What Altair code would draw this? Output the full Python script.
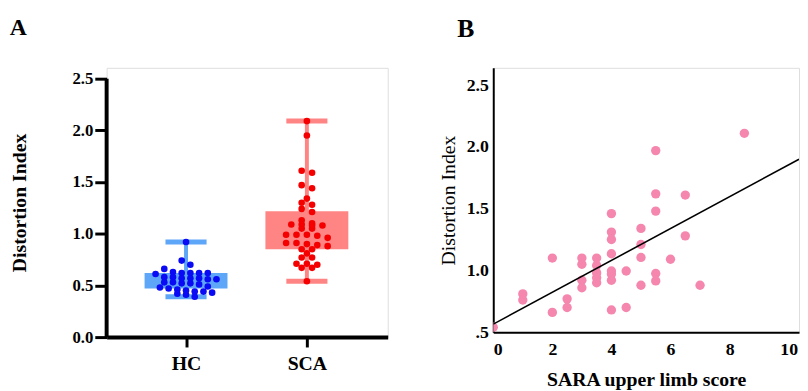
import altair as alt
import pandas as pd
import numpy as np

# ---------------- Panel A data ----------------
groups = ["HC", "SCA"]
hc_values = [0.92, 0.74, 0.70, 0.66,
             0.63, 0.62, 0.62, 0.62, 0.62, 0.61,
             0.58, 0.58, 0.57, 0.57, 0.57, 0.56, 0.56,
             0.53, 0.53, 0.52, 0.52, 0.51,
             0.49, 0.48, 0.47, 0.46, 0.45,
             0.44, 0.44, 0.43, 0.42, 0.41, 0.39]
sca_values = [2.09, 1.95, 1.61, 1.59, 1.47, 1.44, 1.34, 1.30, 1.28, 1.24, 1.21, 1.13,
              1.10, 1.09, 1.09, 1.08, 1.08, 1.05, 1.05,
              0.99, 0.99, 0.99, 0.98, 0.96,
              0.91, 0.91, 0.90, 0.89, 0.88,
              0.85, 0.85, 0.81, 0.77, 0.77, 0.71, 0.71, 0.70, 0.67, 0.67, 0.54]
y_ticks_a = [0.0, 0.5, 1.0, 1.5, 2.0, 2.5]

# ---------------- Panel B data ----------------
sara_score = [0, 1, 1, 2, 2, 2.5, 2.5,
              3, 3, 3, 3,
              3.5, 3.5, 3.5, 3.5, 3.5,
              4, 4, 4, 4, 4, 4, 4, 4,
              4.5, 4.5,
              5, 5, 5, 5,
              5.5, 5.5, 5.5, 5.5, 5.5,
              6, 6.5, 6.5, 7, 8.5]
sara_di = [0.54, 0.81, 0.76, 1.10, 0.66, 0.77, 0.70,
           1.10, 1.05, 0.92, 0.86,
           1.10, 1.04, 0.98, 0.94, 0.90,
           1.46, 1.31, 1.25, 1.135, 0.995, 0.97, 0.92, 0.68,
           0.995, 0.70,
           1.34, 1.21, 1.105, 0.88,
           1.97, 1.62, 1.48, 0.975, 0.915,
           1.09, 1.61, 1.28, 0.88, 2.11]
fit_intercept = 0.565
fit_slope = 0.129
x_ticks_b = [0, 2, 4, 6, 8, 10]
y_ticks_b = [0.5, 1.0, 1.5, 2.0, 2.5]

FONT = "Liberation Serif"
HC_BOX = "#5EA6F7"
SCA_BOX = "#FF8484"
HC_DOT = "#0A0AF5"
SCA_DOT = "#F50000"
PINK = "#F586AE"


def rows_offsets(vals, tol, step):
    order = sorted(range(len(vals)), key=lambda i: -vals[i])
    rows = []
    for i in order:
        if rows and vals[rows[-1][0]] - vals[i] <= tol:
            rows[-1].append(i)
        else:
            rows.append([i])
    off = [0.0] * len(vals)
    for r in rows:
        n = len(r)
        for k, i in enumerate(r):
            off[i] = (k - (n - 1) / 2) * step
    return off


pts = []
stats = []
for gi, (g, vals, tol, step) in enumerate([("HC", hc_values, 0.05, 0.072),
                                           ("SCA", sca_values, 0.035, 0.086)]):
    pos = gi + 1
    offs = rows_offsets(vals, tol, step)
    for v, o in zip(vals, offs):
        pts.append({"group": g, "xp": pos + o, "value": v})
    arr = np.array(vals)
    stats.append({"group": g, "pos": pos,
                  "bl": pos - 0.343, "br": pos + 0.343,
                  "cl": pos - 0.17, "cr": pos + 0.17,
                  "mn": arr.min(), "mx": arr.max(),
                  "q1": np.percentile(arr, 25), "q3": np.percentile(arr, 75)})
pts_df = pd.DataFrame(pts)
stats_df = pd.DataFrame(stats)
axis_df = pd.DataFrame({"x0": [0.343], "y0": [0.0], "y1": [2.5]})

# plot area reaches a little above 2.5 so both panels share their top edge
ya_top = 2.5 * 273 / 262
xa = alt.Scale(domain=[0.343, 2.669], nice=False, zero=False)
ya = alt.Scale(domain=[0, ya_top], nice=False)
box_color = alt.Color("group:N", scale=alt.Scale(domain=groups, range=[HC_BOX, SCA_BOX]), legend=None)
dot_color = alt.Color("group:N", scale=alt.Scale(domain=groups, range=[HC_DOT, SCA_DOT]), legend=None)

x_axis_a = alt.Axis(values=[1, 2], labelExpr="datum.value == 1 ? 'HC' : 'SCA'", title=None,
                    grid=False, domainColor="black", domainWidth=4, tickColor="black",
                    tickWidth=3, tickSize=10, labelFont=FONT, labelFontSize=20,
                    labelFontWeight="bold", labelColor="black", labelPadding=7)
y_axis_a = alt.Axis(values=y_ticks_a, format=".1f", title="Distortion Index", grid=False,
                    domain=False, tickColor="black", tickWidth=3,
                    tickSize=12, labelFont=FONT, labelFontSize=17, labelFontWeight="bold",
                    labelColor="black", labelPadding=2, titleFont=FONT, titleFontSize=20,
                    titleFontWeight="bold", titleColor="black", titlePadding=43)

whisk = alt.Chart(stats_df).mark_rule(strokeWidth=4).encode(
    x=alt.X("pos:Q", scale=xa, axis=x_axis_a),
    y=alt.Y("mn:Q", scale=ya, axis=y_axis_a), y2="mx:Q", color=box_color)
cap_top = alt.Chart(stats_df).mark_rule(strokeWidth=5).encode(
    x="cl:Q", x2="cr:Q", y="mx:Q", color=box_color)
cap_bot = alt.Chart(stats_df).mark_rule(strokeWidth=5).encode(
    x="cl:Q", x2="cr:Q", y="mn:Q", color=box_color)
boxes = alt.Chart(stats_df).mark_rect().encode(
    x="bl:Q", x2="br:Q", y="q1:Q", y2="q3:Q", color=box_color)
dots = alt.Chart(pts_df).mark_circle(size=45, opacity=1).encode(
    x="xp:Q", y="value:Q", color=dot_color)
y_line = alt.Chart(axis_df).mark_rule(strokeWidth=4, color="black").encode(
    x="x0:Q", y="y0:Q", y2="y1:Q")

panel_a = alt.layer(whisk, cap_top, cap_bot, boxes, dots, y_line).resolve_scale(
    color="independent").properties(
    width=285, height=273,
    title=alt.TitleParams("A", anchor="start", frame="bounds", font=FONT, fontSize=24,
                          fontWeight="bold", color="black", offset=28))

# ---------------- Panel B ----------------
b_df = pd.DataFrame({"score": sara_score, "di": sara_di})
x_end = 10.35
line_df = pd.DataFrame({"score": [0, x_end],
                        "di": [fit_intercept, fit_intercept + fit_slope * x_end]})
xb = alt.Scale(domain=[0, x_end], nice=False)
yb = alt.Scale(domain=[0.5, 2.64], nice=False, zero=False)
x_axis_b = alt.Axis(values=x_ticks_b, format="d", title="SARA upper limb score", grid=False,
                    ticks=False, domainColor="black", domainWidth=2, labelFont=FONT,
                    labelFontSize=18, labelFontWeight="bold", labelColor="black",
                    labelPadding=9, titleFont=FONT, titleFontSize=20, titleFontWeight="bold",
                    titleColor="black", titlePadding=11)
y_axis_b = alt.Axis(values=y_ticks_b, labelExpr="datum.value == 0.5 ? '.5' : format(datum.value, '.1f')",
                    title="Distortion Index", grid=False, ticks=False, domainColor="black",
                    domainWidth=2, labelFont=FONT, labelFontSize=18, labelFontWeight="bold",
                    labelColor="black", labelPadding=5, titleFont=FONT, titleFontSize=20,
                    titleFontWeight="normal", titleColor="black", titlePadding=8)

scatter = alt.Chart(b_df).mark_circle(size=90, opacity=1, color=PINK, clip=True).encode(
    x=alt.X("score:Q", scale=xb, axis=x_axis_b),
    y=alt.Y("di:Q", scale=yb, axis=y_axis_b))
fit = alt.Chart(line_df).mark_line(color="black", strokeWidth=1.6, clip=True).encode(
    x="score:Q", y="di:Q")

panel_b = alt.layer(scatter, fit).properties(
    width=310, height=268,
    title=alt.TitleParams("B", anchor="start", frame="bounds", font=FONT, fontSize=26,
                          fontWeight="bold", color="black", offset=26, dx=19))

chart = alt.hconcat(panel_a, panel_b, spacing=50).properties(
    padding={"left": 1, "top": 5, "right": 0, "bottom": 0}
).configure_view(stroke=None).configure(background="white")

chart.save("out.html", embed_options={"renderer": "svg", "actions": False})
